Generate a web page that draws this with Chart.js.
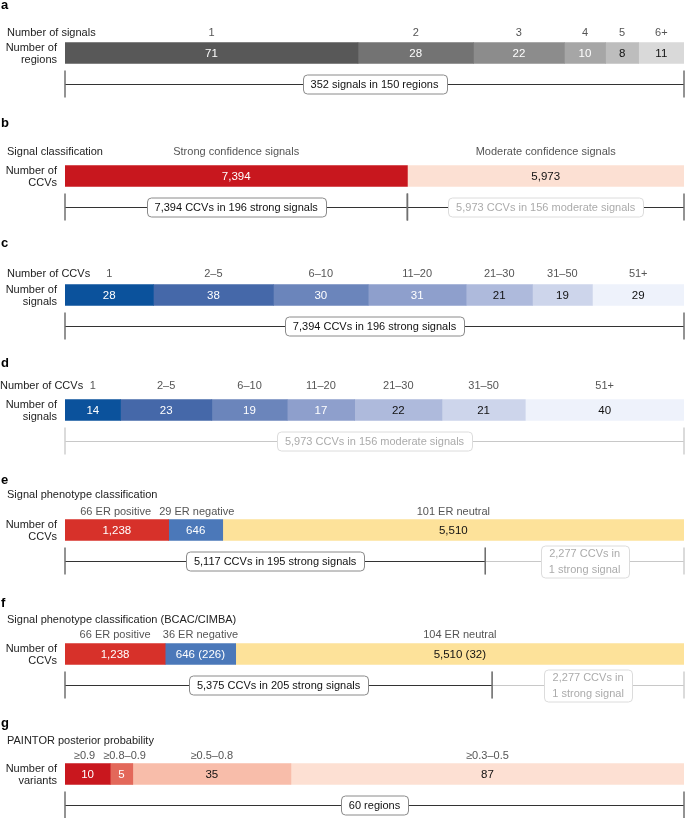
<!DOCTYPE html>
<html>
<head>
<meta charset="utf-8">
<script src="https://cdn.jsdelivr.net/npm/chart.js@4.4.1/dist/chart.umd.min.js"></script>
<style>
  html, body { margin: 0; padding: 0; background: #fff; overflow: hidden; }
  body { width: 685px; height: 818px; position: relative; }
  canvas { position: absolute; left: 0; }
</style>
</head>
<body>
<script>
// a: number of signals per region
const aCategories = ["1", "2", "3", "4", "5", "6+"];
const aRegions = [71, 28, 22, 10, 8, 11];

// b: signal classification
const bCategories = ["Strong confidence signals", "Moderate confidence signals"];
const bCCVs = [7394, 5973];

// c, d: number of CCVs per signal
const ccvBins = ["1", "2–5", "6–10", "11–20", "21–30", "31–50", "51+"];
const cSignals = [28, 38, 30, 31, 21, 19, 29];
const dSignals = [14, 23, 19, 17, 22, 21, 40];

// e: signal phenotype classification
const eCategories = ["66 ER positive", "29 ER negative", "101 ER neutral"];
const eCCVs = [1238, 646, 5510];
const eBracketSplit = 5020;

// f: phenotype classification (BCAC/CIMBA)
const fCategories = ["66 ER positive", "36 ER negative", "104 ER neutral"];
const fCCVs = [1238, 646, 5510];
const fExtraCCVs = [0, 226, 32];
const fBracketSplit = 5280;

// g: PAINTOR posterior probability
const gCategories = ["≥0.9", "≥0.8–0.9", "≥0.5–0.8", "≥0.3–0.5"];
const gVariants = [10, 5, 35, 87];

const FONT = '"Liberation Sans", Arial, sans-serif';
const fmt = v => v.toLocaleString("en-US");
const sum = arr => arr.reduce((s, v) => s + v, 0);

const grays = ["#585858", "#737373", "#8c8c8c", "#a6a6a6", "#bdbdbd", "#d9d9d9"];
const blues = ["#0b529c", "#4568a9", "#6b85bb", "#8e9fcc", "#aebadc", "#cdd5eb", "#eef2fb"];
const erColors = ["#d7312a", "#4b78b9", "#fde29a"];

const fWidths = fCCVs.map((v, i) => v + fExtraCCVs[i]);

const panels = [
  {
    id: "a", center: 52.5, letterDy: -47.5, headerDy: -20.5,
    header: "Number of signals", headerX: 7, rowLabel: ["Number of", "regions"],
    categories: aCategories, values: aRegions, labels: aRegions.map(fmt),
    colors: grays, darkTextFrom: 4,
    brackets: [{ from: 0, to: sum(aRegions), text: ["352 signals in 150 regions"] }]
  },
  {
    id: "b", center: 176, letterDy: -53, headerDy: -24,
    header: "Signal classification", headerX: 7, rowLabel: ["Number of", "CCVs"],
    categories: bCategories, values: bCCVs, labels: bCCVs.map(fmt),
    colors: ["#c8171e", "#fce0d3"], darkTextFrom: 1,
    brackets: [
      { from: 0, to: bCCVs[0], text: ["7,394 CCVs in 196 strong signals"] },
      { from: bCCVs[0], to: sum(bCCVs), text: ["5,973 CCVs in 156 moderate signals"], boxLight: true }
    ]
  },
  {
    id: "c", center: 294.5, letterDy: -51.5, headerDy: -21.5,
    header: "Number of CCVs", headerX: 7, rowLabel: ["Number of", "signals"],
    categories: ccvBins, values: cSignals, labels: cSignals.map(fmt),
    colors: blues, darkTextFrom: 4,
    brackets: [{ from: 0, to: sum(cSignals), text: ["7,394 CCVs in 196 strong signals"] }]
  },
  {
    id: "d", center: 409.5, letterDy: -46.5, headerDy: -24.5,
    header: "Number of CCVs", headerX: 0, rowLabel: ["Number of", "signals"],
    categories: ccvBins, values: dSignals, labels: dSignals.map(fmt),
    colors: blues, darkTextFrom: 4,
    brackets: [{ from: 0, to: sum(dSignals), text: ["5,973 CCVs in 156 moderate signals"], lineLight: true, boxLight: true }]
  },
  {
    id: "e", center: 529.5, letterDy: -49.5, headerDy: -18.5,
    title: "Signal phenotype classification", titleDy: -35.5, rowLabel: ["Number of", "CCVs"],
    categories: eCategories, values: eCCVs, labels: eCCVs.map(fmt),
    colors: erColors, darkTextFrom: 2,
    brackets: [
      { from: 0, to: eBracketSplit, text: ["5,117 CCVs in 195 strong signals"] },
      { from: eBracketSplit, to: sum(eCCVs), text: ["2,277 CCVs in", "1 strong signal"], lineLight: true, boxLight: true }
    ]
  },
  {
    id: "f", center: 653.5, letterDy: -50.5, headerDy: -19.5,
    title: "Signal phenotype classification (BCAC/CIMBA)", titleDy: -34.5, rowLabel: ["Number of", "CCVs"],
    categories: fCategories, values: fWidths,
    labels: fCCVs.map((v, i) => fExtraCCVs[i] ? fmt(v) + " (" + fmt(fExtraCCVs[i]) + ")" : fmt(v)),
    colors: erColors, darkTextFrom: 2,
    brackets: [
      { from: 0, to: fBracketSplit, text: ["5,375 CCVs in 205 strong signals"] },
      { from: fBracketSplit, to: sum(fWidths), text: ["2,277 CCVs in", "1 strong signal"], lineLight: true, boxLight: true }
    ]
  },
  {
    id: "g", center: 773.5, letterDy: -50.5, headerDy: -18.5,
    title: "PAINTOR posterior probability", titleDy: -33.5, rowLabel: ["Number of", "variants"],
    categories: gCategories, values: gVariants, labels: gVariants.map(fmt),
    colors: ["#c9171e", "#e3685a", "#f8bdaa", "#fde0d3"], darkTextFrom: 2,
    brackets: [{ from: 0, to: sum(gVariants), text: ["60 regions"] }]
  }
];

const CANVAS_H = 124;
const MID = 64;

function drawPanel(chart, p) {
  const ctx = chart.ctx;
  const xs = chart.scales.x;
  const els = chart.data.datasets.map((d, i) => chart.getDatasetMeta(i).data[0]);
  const cy = els[0].y;

  ctx.save();
  ctx.textBaseline = "middle";

  // panel letter
  ctx.font = "bold 13px " + FONT;
  ctx.fillStyle = "#000";
  ctx.textAlign = "left";
  ctx.fillText(p.id, 1, cy + p.letterDy);

  ctx.font = "11px " + FONT;
  ctx.fillStyle = "#222";
  if (p.title) ctx.fillText(p.title, 7, cy + p.titleDy);
  if (p.header) ctx.fillText(p.header, p.headerX, cy + p.headerDy);

  ctx.textAlign = "right";
  ctx.fillText(p.rowLabel[0], 57, cy - 5.5);
  ctx.fillText(p.rowLabel[1], 57, cy + 6.5);

  // category labels over segments, nudged apart when they collide
  const items = els.map((el, i) => ({
    c: (el.x + el.base) / 2,
    w: ctx.measureText(p.categories[i]).width,
    t: p.categories[i]
  }));
  for (let i = 1; i < items.length; i++) {
    const a = items[i - 1], b = items[i];
    const gap = (b.c - b.w / 2) - (a.c + a.w / 2);
    if (gap < 8) {
      const s = (8 - gap) / 2;
      a.c -= s;
      b.c += s;
    }
  }
  ctx.textAlign = "center";
  ctx.fillStyle = "#555";
  items.forEach(it => ctx.fillText(it.t, it.c, cy + p.headerDy));

  // values inside bars
  ctx.font = "11.5px " + FONT;
  els.forEach((el, i) => {
    ctx.fillStyle = i >= p.darkTextFrom ? "#111" : "#fff";
    ctx.fillText(p.labels[i], (el.x + el.base) / 2, cy + 0.5);
  });

  // brackets: light ones first so dark ticks sit on top
  const ly = Math.round(cy + 31) + 0.5;
  const order = p.brackets.filter(b => b.lineLight).concat(p.brackets.filter(b => !b.lineLight));
  order.forEach(b => {
    const x0 = xs.getPixelForValue(b.from);
    const x1 = xs.getPixelForValue(b.to);
    ctx.strokeStyle = b.lineLight ? "#c8c8c8" : "#333";
    ctx.lineWidth = 1;
    ctx.beginPath();
    ctx.moveTo(x0, ly);
    ctx.lineTo(x1, ly);
    ctx.stroke();

    ctx.strokeStyle = b.lineLight ? "#d0d0d0" : "#707070";
    ctx.lineWidth = 1.5;
    ctx.beginPath();
    ctx.moveTo(Math.max(x0, 0.75), cy + 17.5);
    ctx.lineTo(Math.max(x0, 0.75), cy + 44.5);
    ctx.moveTo(Math.min(x1, chart.width - 0.75), cy + 17.5);
    ctx.lineTo(Math.min(x1, chart.width - 0.75), cy + 44.5);
    ctx.stroke();
  });
  p.brackets.forEach(b => {
    const x0 = xs.getPixelForValue(b.from);
    const x1 = xs.getPixelForValue(b.to);
    const mx = (x0 + x1) / 2;
    ctx.font = "11px " + FONT;
    const w = Math.max(...b.text.map(t => ctx.measureText(t).width)) + 16;
    const h = b.text.length > 1 ? 32 : 19;
    ctx.fillStyle = "#fff";
    ctx.strokeStyle = b.boxLight ? "#dcdcdc" : "#8a8a8a";
    ctx.lineWidth = 1;
    ctx.beginPath();
    ctx.roundRect(Math.round(mx - w / 2) + 0.5, Math.round(ly - h / 2), Math.round(w), h, 4);
    ctx.fill();
    ctx.stroke();
    ctx.fillStyle = b.boxLight ? "#ababab" : "#111";
    ctx.textAlign = "center";
    if (b.text.length > 1) {
      ctx.fillText(b.text[0], mx, ly - 7.5);
      ctx.fillText(b.text[1], mx, ly + 8.5);
    } else {
      ctx.fillText(b.text[0], mx, ly);
    }
  });

  ctx.restore();
}

panels.forEach(p => {
  const canvas = document.createElement("canvas");
  canvas.width = 685;
  canvas.height = CANVAS_H;
  canvas.style.top = (p.center - MID) + "px";
  canvas.style.width = "685px";
  canvas.style.height = CANVAS_H + "px";
  document.body.appendChild(canvas);

  new Chart(canvas.getContext("2d"), {
    type: "bar",
    data: {
      labels: [""],
      datasets: p.values.map((v, i) => ({
        label: p.categories[i],
        data: [v],
        backgroundColor: p.colors[i],
        borderWidth: 0,
        barThickness: 21
      }))
    },
    options: {
      indexAxis: "y",
      responsive: false,
      animation: false,
      layout: { padding: { left: 65, right: 1, top: MID - 11, bottom: CANVAS_H - MID - 11 } },
      scales: {
        x: { stacked: true, min: 0, max: sum(p.values), display: false },
        y: { stacked: true, display: false }
      },
      plugins: {
        legend: { display: false },
        tooltip: { enabled: false }
      }
    },
    plugins: [{ id: "panel" + p.id, afterDatasetsDraw: chart => drawPanel(chart, p) }]
  });
});
</script>
</body>
</html>
